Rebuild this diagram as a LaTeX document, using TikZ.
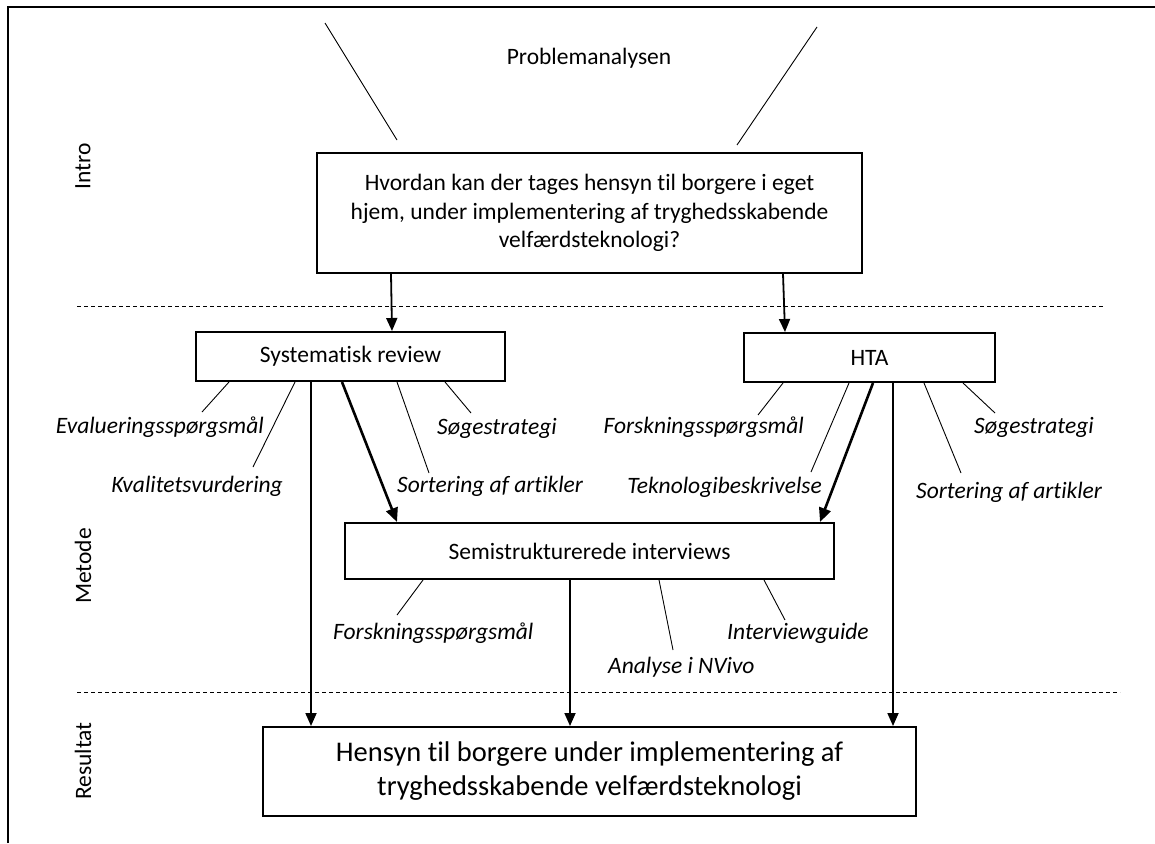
\documentclass[tikz,border=0pt]{standalone}
\usepackage{fontspec}
\setmainfont[Ligatures=NoCommon]{Carlito}
\usetikzlibrary{arrows.meta}
\newcommand\fsmain{\fontsize{23.5}{28.5}\selectfont}
\newcommand\fsres{\fontsize{28.5}{34}\selectfont}
\begin{document}
\begin{tikzpicture}[x=1pt,y=-1pt,
  box/.style={draw, line width=2pt, inner sep=0pt, align=center, font=\fsmain},
  lbl/.style={font=\fsmain\itshape, inner sep=0pt},
  side/.style={font=\fsmain, rotate=90, inner sep=0pt},
  thinline/.style={line width=0.9pt},
  arr/.style={line width=1.8pt, -{Triangle[length=13pt,width=11pt]}},
  arrthick/.style={line width=2.6pt, -{Triangle[length=14pt,width=12pt]}},
  sep/.style={line width=1pt, dash pattern=on 4pt off 3pt}]
\useasboundingbox (0,0) rectangle (1155,843);
\fill[white] (0,0) rectangle (1155,843);
% frame
\draw[line width=2.4pt] (8,843) -- (8,7) -- (1155,7);
% section labels
\node[side] (intro) at (83,166) {Intro};
\node[side] (metode) at (83,566) {Metode};
\node[side] (resultat) at (83,761) {Resultat};
% separators
\draw[sep] (77,306.7) -- (1103,306.7);
\draw[sep] (77,692) -- (1120,692);
% top
\node[font=\fsmain, inner sep=0pt] (prob) at (589,58) {Problemanalysen};
\coordinate (pl1) at (325,23);
\coordinate (pl2) at (397,140);
\coordinate (pr1) at (817,27);
\coordinate (pr2) at (737,145);
\draw[thinline] (pl1) -- (pl2);
\draw[thinline] (pr1) -- (pr2);
% boxes
\node[box, minimum width=545pt, minimum height=120pt] (q) at (589.5,213)
  {Hvordan kan der tages hensyn til borgere i eget\\hjem, under implementering af tryghedsskabende\\velfærdsteknologi?};
\node[box, minimum width=309pt, minimum height=49pt] (sr) at (350.5,356.5) {Systematisk review};
\node[box, minimum width=251pt, minimum height=49pt] (hta) at (869.5,357.5) {HTA};
\node[box, minimum width=489pt, minimum height=56pt] (semi) at (589.5,551) {Semistrukturerede interviews};
\node[box, font=\fsres, minimum width=653pt, minimum height=89pt] (res) at (589.5,771.5)
  {Hensyn til borgere under implementering af\\tryghedsskabende velfærdsteknologi};
% labels
\node[lbl, anchor=east] (e1) at (264,427) {Evalueringsspørgsmål};
\node[lbl, anchor=east] (k1) at (283,486) {Kvalitetsvurdering};
\node[lbl, anchor=west] (s1) at (397,486) {Sortering af artikler};
\node[lbl, anchor=west] (g1) at (437,428) {Søgestrategi};
\node[lbl, anchor=east] (f2) at (804,427) {Forskningsspørgsmål};
\node[lbl, anchor=east] (t2) at (822,487) {Teknologibeskrivelse};
\node[lbl, anchor=west] (s2) at (916,492) {Sortering af artikler};
\node[lbl, anchor=west] (g2) at (974,427) {Søgestrategi};
\node[lbl, anchor=west] (f3) at (333,633) {Forskningsspørgsmål};
\node[lbl, anchor=west] (a3) at (608,667) {Analyse i NVivo};
\node[lbl, anchor=west] (i3) at (727,633) {Interviewguide};
% label lines
\coordinate (ce1) at (202,412);
\coordinate (ck1) at (253,467);
\coordinate (cs1) at (429,473);
\coordinate (cg1) at (471,413);
\coordinate (cf2) at (758,415);
\coordinate (ct2) at (811,472);
\coordinate (cs2) at (961,473);
\coordinate (cg2) at (995,413);
\coordinate (cf3) at (397,615);
\coordinate (ca3) at (673,650);
\coordinate (ci3) at (785,620);
\draw[thinline] (sr.south -| 229,0) -- (ce1);
\draw[thinline] (sr.south -| 295,0) -- (ck1);
\draw[thinline] (sr.south -| 397,0) -- (cs1);
\draw[thinline] (sr.south -| 445,0) -- (cg1);
\draw[thinline] (hta.south -| 783,0) -- (cf2);
\draw[thinline] (hta.south -| 849,0) -- (ct2);
\draw[thinline] (hta.south -| 924,0) -- (cs2);
\draw[thinline] (hta.south -| 963,0) -- (cg2);
\draw[thinline] (semi.south -| 423,0) -- (cf3);
\draw[thinline] (semi.south -| 659,0) -- (ca3);
\draw[thinline] (semi.south -| 764,0) -- (ci3);
% arrows
\draw[arr] (q.south -| 391,0) -- (sr.north -| 392,0);
\draw[arr] (q.south -| 783,0) -- (hta.north -| 785,0);
\draw[arrthick] (sr.south -| 342,0) -- (semi.north -| 397,0);
\draw[arrthick] (hta.south -| 873,0) -- (semi.north -| 820,0);
\draw[arr] (sr.south -| 311,0) -- (res.north -| 311,0);
\draw[arr] (semi.south -| 570,0) -- (res.north -| 570,0);
\draw[arr] (hta.south -| 893,0) -- (res.north -| 893,0);
\end{tikzpicture}
\end{document}
